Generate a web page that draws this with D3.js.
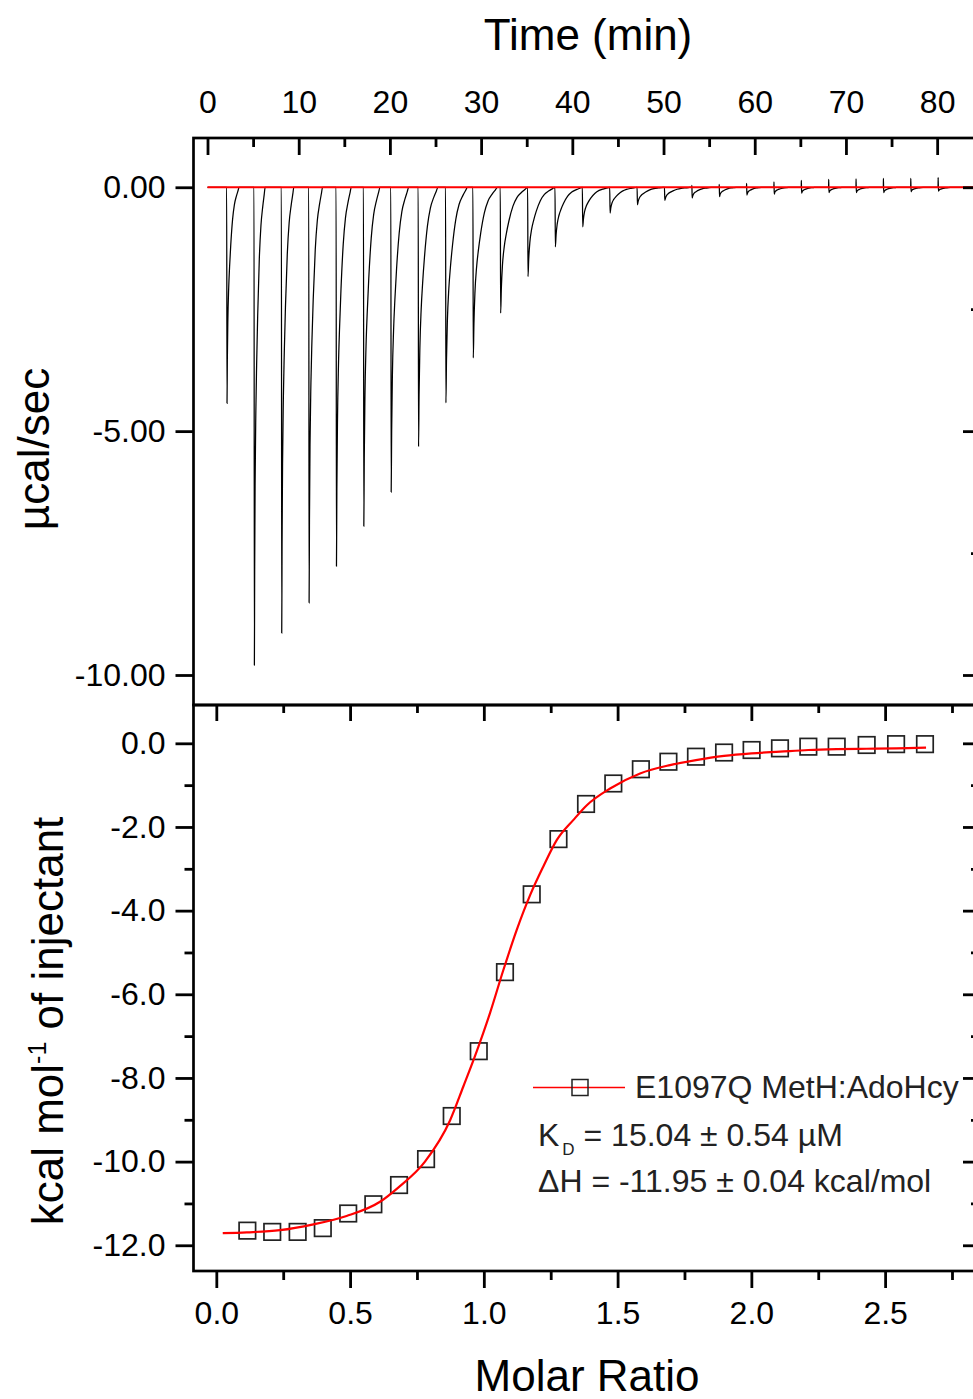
<!DOCTYPE html>
<html>
<head>
<meta charset="utf-8">
<script src="https://cdn.jsdelivr.net/npm/d3@7"></script>
<style>
  body { margin: 0; background: #fff; }
  svg { display: block; }
  text { font-family: "Liberation Sans", Arial, Helvetica, sans-serif; }
</style>
</head>
<body>
<svg id="chart" width="973" height="1399"></svg>
<script>
// ---------- Raw thermogram: one entry per injection ----------
const injectionTimes = [2.1, 5.1, 8.1, 11.1, 14.1, 17.1, 20.1, 23.1, 26.1, 29.1, 32.1, 35.1, 38.1,
  41.1, 44.1, 47.1, 50.1, 53.1, 56.1, 59.1, 62.1, 65.1, 68.1, 71.1, 74.1, 77.1, 80.1];
// heat-rate minimum of each injection peak (µcal/sec)
const peakMinimum = [-4.43, -9.80, -9.14, -8.52, -7.77, -6.95, -6.25, -5.32, -4.42, -3.50, -2.58,
  -1.83, -1.22, -0.81, -0.53, -0.36, -0.27, -0.22, -0.19, -0.16, -0.14, -0.12, -0.11, -0.11,
  -0.11, -0.09, -0.08];
// brief positive spike at the start of the late (dilution) injections (µcal/sec)
const peakOvershoot = [0, 0, 0, 0, 0, 0, 0, 0, 0, 0, 0, 0, 0, 0, 0, 0, 0, 0.04, 0.06, 0.08, 0.11,
  0.14, 0.16, 0.17, 0.18, 0.18, 0.20];
// relative return-to-baseline time of each peak
const recoveryScale = [0.45, 0.4, 0.45, 0.5, 0.55, 0.6, 0.65, 0.72, 0.8, 0.9, 1, 1, 1, 1, 1, 1, 1,
  0.8, 0.7, 0.6, 0.6, 0.6, 0.6, 0.6, 0.6, 0.6, 0.6];
// shape of the return to baseline: [minutes after the minimum, fraction of peak depth]
const recoveryProfile = [[0, 1], [0.08, 0.8], [0.2, 0.62], [0.4, 0.47], [0.62, 0.37], [0.9, 0.27],
  [1.35, 0.15], [1.8, 0.08], [2.3, 0.04], [2.7, 0.015], [2.95, 0]];
const runEnd = 84;

// ---------- Integrated heats ----------
const molarRatio = [0.116, 0.209, 0.304, 0.398, 0.493, 0.587, 0.683, 0.784, 0.880, 0.981, 1.079,
  1.179, 1.279, 1.382, 1.484, 1.587, 1.690, 1.793, 1.898, 2.001, 2.107, 2.213, 2.319, 2.431,
  2.541, 2.649];
const heatPerMol = [-11.65, -11.68, -11.68, -11.59, -11.24, -11.02, -10.56, -9.94, -8.91, -7.36,
  -5.47, -3.61, -2.29, -1.45, -0.96, -0.62, -0.44, -0.32, -0.22, -0.16, -0.12, -0.08, -0.08,
  -0.04, -0.02, -0.02];
// one-site binding fit
const fitRatio = [0.024, 0.114, 0.238, 0.363, 0.487, 0.612, 0.680, 0.780, 0.874, 0.923, 0.973,
  1.023, 1.073, 1.123, 1.173, 1.222, 1.273, 1.335, 1.385, 1.472, 1.584, 1.696, 1.793, 1.898,
  2.001, 2.107, 2.213, 2.319, 2.431, 2.541, 2.653];
const fitHeat = [-11.71, -11.69, -11.64, -11.50, -11.30, -10.96, -10.62, -10.00, -9.01, -8.21,
  -7.37, -6.45, -5.42, -4.46, -3.63, -2.95, -2.31, -1.83, -1.48, -1.08, -0.72, -0.52, -0.40,
  -0.30, -0.24, -0.20, -0.16, -0.14, -0.13, -0.12, -0.105];

// ---------- Ticks and labels ----------
const timeMajor = [0, 10, 20, 30, 40, 50, 60, 70, 80];
const timeMinor = [5, 15, 25, 35, 45, 55, 65, 75];
const powerMajor = [0, -5, -10];
const powerMinor = [-2.5, -7.5];
const ratioMajor = [0, 0.5, 1.0, 1.5, 2.0, 2.5];
const ratioMinor = [0.25, 0.75, 1.25, 1.75, 2.25, 2.75];
const heatMajor = [0, -2, -4, -6, -8, -10, -12];
const heatMinor = [-1, -3, -5, -7, -9, -11];
const seriesName = "E1097Q MetH:AdoHcy";
const kdValue = "15.04 ± 0.54 µM";
const dhValue = "-11.95 ± 0.04 kcal/mol";

// ---------- Layout ----------
const L = 193.5, R = 975;
const topT = 138, mid = 705, bot = 1271;
const frameW = 2.7, tickW = 2.8;
const titleSize = 44, tickSize = 32, legendSize = 32;

const svg = d3.select("#chart");

const xTime = d3.scaleLinear().domain([-1.535, 84.15]).range([L, R]);
const yPower = d3.scaleLinear().domain([-10.615, 1.01]).range([mid, topT]);
const xRatio = d3.scaleLinear().domain([-0.0853, 2.836]).range([L, R]);
const yHeat = d3.scaleLinear().domain([-12.615, 0.916]).range([bot, mid]);

function styleAxis(g, fontSize) {
  g.select(".domain").remove();
  g.selectAll(".tick line").attr("stroke", "#000").attr("stroke-width", tickW);
  g.selectAll(".tick text").attr("fill", "#000").attr("font-size", fontSize)
    .attr("font-family", '"Liberation Sans", Arial, sans-serif');
  return g;
}
function axisGroup(axis, tx, ty) {
  return svg.append("g").attr("transform", `translate(${tx},${ty})`)
    .call(axis).call(g => styleAxis(g, tickSize));
}

// ---------- Top panel: raw thermogram ----------
svg.append("clipPath").attr("id", "clipTop")
  .append("rect").attr("x", L).attr("y", topT).attr("width", R - L).attr("height", mid - topT);

const trace = [[0, 0]];
injectionTimes.forEach((t0, i) => {
  trace.push([t0, 0]);
  if (peakOvershoot[i] > 0) trace.push([t0 + 0.01, peakOvershoot[i]]);
  const tMin = t0 + 0.04;
  recoveryProfile.forEach(([dt, f]) => {
    trace.push([tMin + dt * recoveryScale[i], peakMinimum[i] * f]);
  });
});
trace.push([runEnd, 0]);

const traceLine = d3.line()
  .x(d => xTime(d[0])).y(d => yPower(d[1]))
  .curve(d3.curveMonotoneX);

svg.append("path")
  .attr("clip-path", "url(#clipTop)")
  .attr("d", traceLine(trace))
  .attr("fill", "none").attr("stroke", "#000").attr("stroke-width", 1.25);

// baseline
svg.append("path")
  .attr("d", d3.line().x(d => xTime(d[0])).y(d => yPower(d[1]))([[0, 0], [runEnd, 0]]))
  .attr("stroke", "#ff0000").attr("stroke-width", 2).attr("fill", "none");

// top axis (time)
axisGroup(d3.axisTop(xTime).tickValues(timeMajor).tickSize(-17).tickPadding(25)
  .tickFormat(d => String(d)), 0, topT);
axisGroup(d3.axisTop(xTime).tickValues(timeMinor).tickSize(-9).tickFormat(""), 0, topT);
// left axis (power)
axisGroup(d3.axisLeft(yPower).tickValues(powerMajor).tickSize(18).tickPadding(10)
  .tickFormat(d => d.toFixed(2)), L, 0);
// right axis
axisGroup(d3.axisRight(yPower).tickValues(powerMajor).tickSize(-12).tickFormat(""), R, 0);
axisGroup(d3.axisRight(yPower).tickValues(powerMinor).tickSize(-4).tickFormat(""), R, 0);

// ---------- Bottom panel: integrated heats ----------
const sq = 16.5;
svg.append("g").selectAll("rect")
  .data(molarRatio.map((r, i) => [r, heatPerMol[i]]))
  .join("rect")
  .attr("x", d => xRatio(d[0]) - sq / 2)
  .attr("y", d => yHeat(d[1]) - sq / 2)
  .attr("width", sq).attr("height", sq)
  .attr("fill", "none").attr("stroke", "#222").attr("stroke-width", 1.7);

svg.append("path")
  .attr("d", d3.line().x(d => xRatio(d[0])).y(d => yHeat(d[1]))
    .curve(d3.curveMonotoneX)(fitRatio.map((r, i) => [r, fitHeat[i]])))
  .attr("fill", "none").attr("stroke", "#ff0000").attr("stroke-width", 2.2);

// top axis (inward ticks on the shared border)
axisGroup(d3.axisBottom(xRatio).tickValues(ratioMajor).tickSize(16).tickFormat(""), 0, mid);
axisGroup(d3.axisBottom(xRatio).tickValues(ratioMinor).tickSize(8).tickFormat(""), 0, mid);
// bottom axis
axisGroup(d3.axisBottom(xRatio).tickValues(ratioMajor).tickSize(17).tickPadding(13)
  .tickFormat(d => d.toFixed(1)), 0, bot);
axisGroup(d3.axisBottom(xRatio).tickValues(ratioMinor).tickSize(9).tickFormat(""), 0, bot);
// left axis
axisGroup(d3.axisLeft(yHeat).tickValues(heatMajor).tickSize(18).tickPadding(10)
  .tickFormat(d => d.toFixed(1)), L, 0);
axisGroup(d3.axisLeft(yHeat).tickValues(heatMinor).tickSize(9).tickFormat(""), L, 0);
// right axis
axisGroup(d3.axisRight(yHeat).tickValues(heatMajor).tickSize(-12).tickFormat(""), R, 0);
axisGroup(d3.axisRight(yHeat).tickValues(heatMinor).tickSize(-4).tickFormat(""), R, 0);

// ---------- Frames ----------
svg.append("rect").attr("x", L).attr("y", topT).attr("width", R - L).attr("height", mid - topT)
  .attr("fill", "none").attr("stroke", "#000").attr("stroke-width", frameW);
svg.append("rect").attr("x", L).attr("y", mid).attr("width", R - L).attr("height", bot - mid)
  .attr("fill", "none").attr("stroke", "#000").attr("stroke-width", frameW);

// ---------- Titles ----------
svg.append("text").attr("x", 588).attr("y", 50).attr("text-anchor", "middle")
  .attr("font-size", titleSize).attr("fill", "#000").text("Time (min)");
svg.append("text").attr("x", 587).attr("y", 1391).attr("text-anchor", "middle")
  .attr("font-size", titleSize).attr("fill", "#000").text("Molar Ratio");
svg.append("text").attr("transform", "rotate(-90)").attr("x", -449).attr("y", 49)
  .attr("text-anchor", "middle").attr("font-size", titleSize).attr("fill", "#000").text("µcal/sec");

const yt = svg.append("text").attr("transform", "rotate(-90)").attr("x", -1021).attr("y", 63)
  .attr("text-anchor", "middle").attr("font-size", titleSize).attr("fill", "#000");
yt.append("tspan").text("kcal mol");
yt.append("tspan").attr("font-size", 25).attr("dy", -17).text("-1");
yt.append("tspan").attr("dy", 17).text(" of injectant");

// ---------- Legend and fit parameters ----------
const lg = svg.append("g");
lg.append("line").attr("x1", 533).attr("x2", 625).attr("y1", 1087.5).attr("y2", 1087.5)
  .attr("stroke", "#ff0000").attr("stroke-width", 1.3);
lg.append("rect").attr("x", 580 - 8).attr("y", 1087.5 - 8).attr("width", 16).attr("height", 16)
  .attr("fill", "none").attr("stroke", "#222").attr("stroke-width", 1.5);
lg.append("text").attr("x", 635).attr("y", 1097.5).attr("font-size", legendSize).attr("fill", "#222")
  .text(seriesName);

const kd = lg.append("text").attr("x", 538).attr("y", 1146).attr("font-size", legendSize).attr("fill", "#222");
kd.append("tspan").text("K");
kd.append("tspan").attr("font-size", 17).attr("dy", 9).attr("dx", 3).text("D");
kd.append("tspan").attr("dy", -9).text(" = " + kdValue);

lg.append("text").attr("x", 538).attr("y", 1192).attr("font-size", legendSize).attr("fill", "#222")
  .text("ΔH = " + dhValue);
</script>
</body>
</html>
